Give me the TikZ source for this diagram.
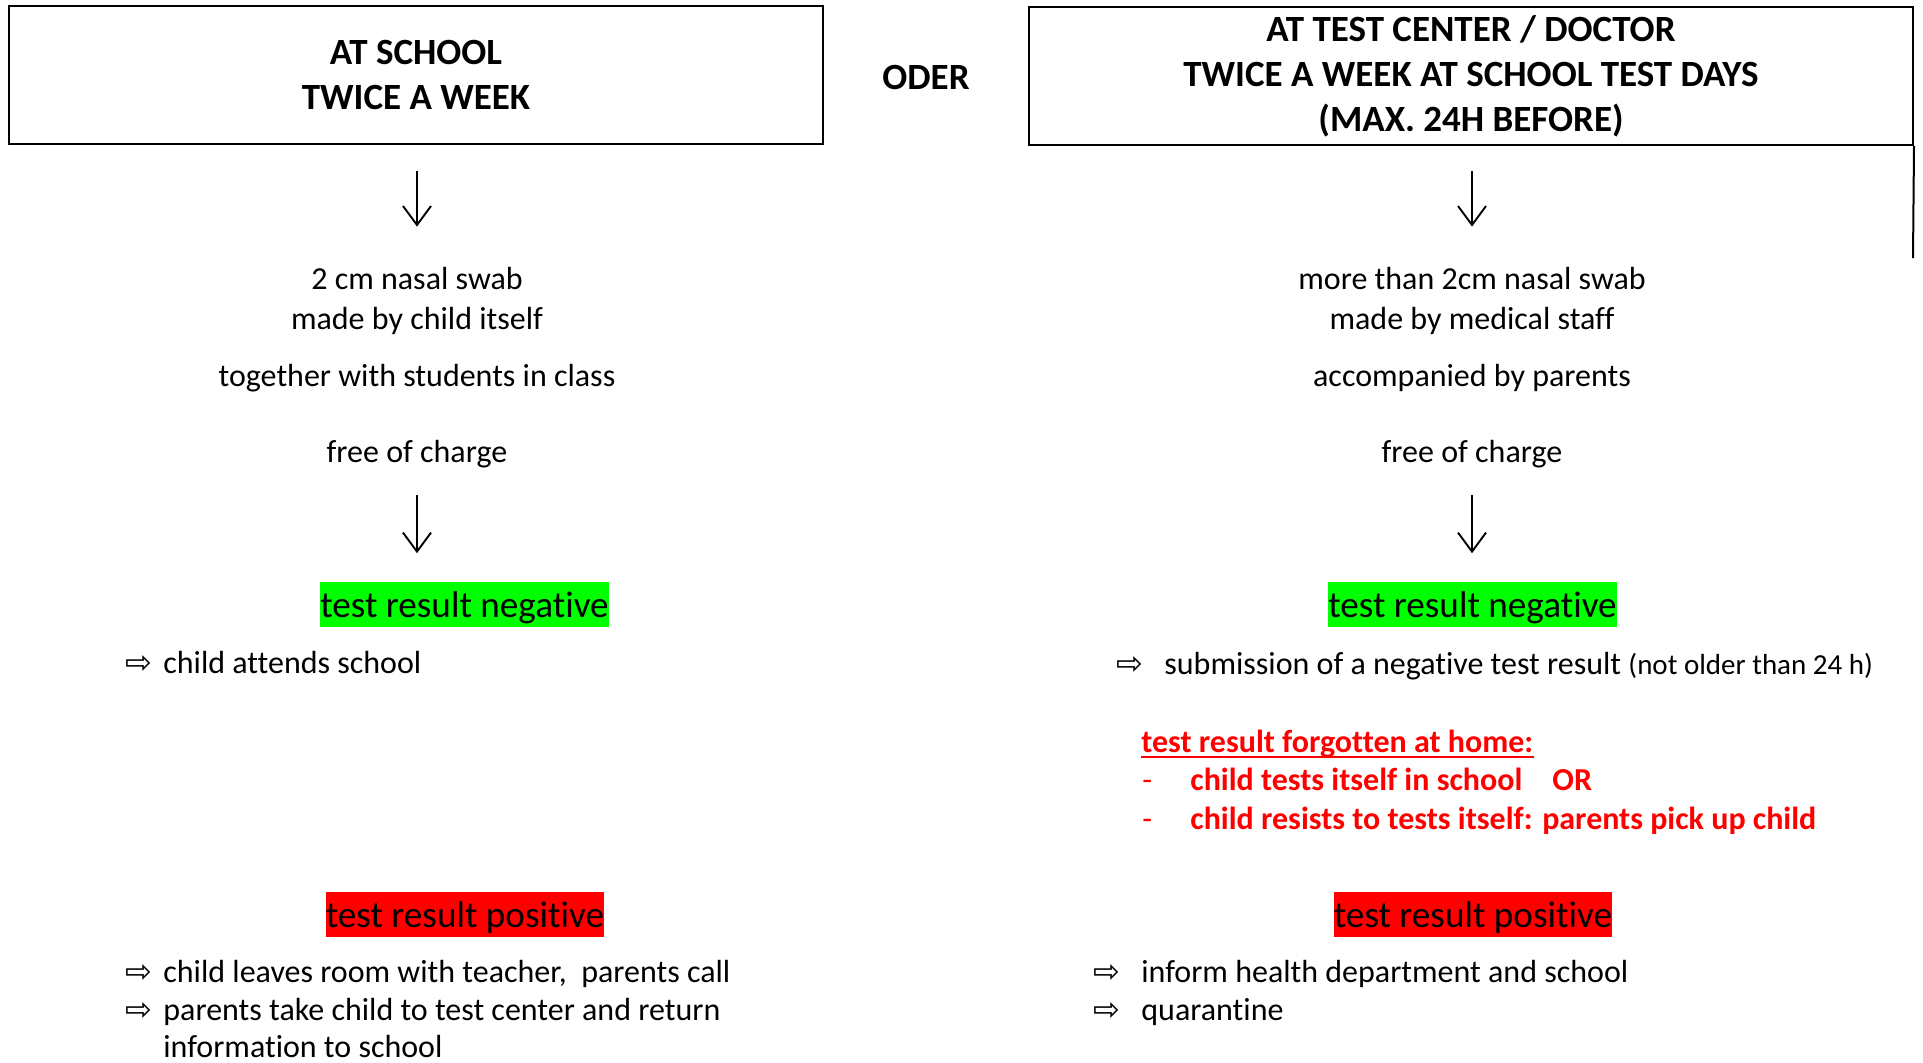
\documentclass[tikz,border=0pt]{standalone}
\usepackage{fontspec}
\setmainfont[Ligatures={NoCommon,NoContextual}, RawFeature={-liga;-clig;-calt;-dlig}]{Carlito}
\newfontfamily\arrowfont{DejaVu Sans}
\usetikzlibrary{arrows.meta}
\definecolor{hlgreen}{RGB}{0,255,0}
\definecolor{hlred}{RGB}{255,0,0}

\begin{document}
\begin{tikzpicture}[x=0.5pt, y=-0.5pt,
        head/.style={draw, line width=1pt, inner sep=0pt, align=center, font=\fontsize{18.5}{22.5}\selectfont\bfseries},
        txt/.style={inner sep=0pt, text height=12pt, text depth=3.5pt, font=\fontsize{16}{19.5}\selectfont},
        warn/.style={txt, text=red, font=\fontsize{16}{19.5}\selectfont\bfseries},
        hl/.style={inner sep=0pt, text height=17.7pt, text depth=5pt, font=\fontsize{18.6}{22.5}\selectfont},
        bul/.style={inner sep=0pt, text height=10pt, text depth=2pt, font=\arrowfont\fontsize{16}{19}\selectfont},
        arr/.style={-{Straight Barb[length=9.5pt, width=14pt]}, line width=0.95pt}]
        \useasboundingbox (0,0) rectangle (1923,1062);

        \node[head, minimum width=407pt, minimum height=69pt] (hdrL) at (416,75) {AT SCHOOL\\TWICE A WEEK};
        \node[head, minimum width=442pt, minimum height=69pt] (hdrR) at (1471,76) {AT TEST CENTER / DOCTOR\\TWICE A WEEK AT SCHOOL TEST DAYS\\(MAX. 24H BEFORE)};
        \node[font=\fontsize{18.5}{22.5}\selectfont\bfseries] (oder) at (926,77) {ODER};
        \coordinate (tail) at (1913,258);
        \draw[line width=1pt] (hdrR.south east) -- (tail);

        % left column
        \node[txt, anchor=base] (swab1L) at (417,289) {2 cm nasal swab};
        \node[txt, anchor=base] (swab2L) at (417,329) {made by child itself};
        \node[txt, anchor=base] (withL) at (417,386) {together with students in class};
        \node[txt, anchor=base] (costL) at (417,462) {free of charge};
        \node[hl, fill=hlgreen, anchor=base] (negL) at (464.5,617) {test result negative};
        \node[bul, anchor=base west] (bn1L) at (125,673) {⇨};
        \node[txt, anchor=base west] (n1L) at (163,673) {child attends school};
        \node[hl, fill=hlred, anchor=base] (posL) at (465,927) {test result positive};
        \node[bul, anchor=base west] (bp1L) at (125,982) {⇨};
        \node[txt, anchor=base west] (p1L) at (163,982) {child leaves room with teacher,\ \ parents call};
        \node[bul, anchor=base west] (bp2L) at (125,1020) {⇨};
        \node[txt, anchor=base west] (p2L) at (163,1020) {parents take child to test center and return};
        \node[txt, anchor=base west] (p3L) at (163,1057) {information to school};

        % right column
        \node[txt, anchor=base] (swab1R) at (1472,289) {more than 2cm nasal swab};
        \node[txt, anchor=base] (swab2R) at (1472,329) {made by medical staff};
        \node[txt, anchor=base] (withR) at (1472,386) {accompanied by parents};
        \node[txt, anchor=base] (costR) at (1472,462) {free of charge};
        \node[hl, fill=hlgreen, anchor=base] (negR) at (1472.5,617) {test result negative};
        \node[bul, anchor=base west] (bn1R) at (1116,674) {⇨};
        \node[txt, anchor=base west] (n1R) at (1164,674) {submission of a negative test result {\fontsize{14.5}{18}\selectfont(not older than 24 h)}};
        \node[warn, anchor=base west] (forgot) at (1141,752) {test result forgotten at home:};
        \draw[red, line width=1pt] ([yshift=-2.5pt]forgot.base west) -- ([yshift=-2.5pt]forgot.base east);
        \node[txt, text=red, anchor=base west] (dash1) at (1142,790) {-};
        \node[warn, anchor=base west] (f1) at (1190,790) {child tests itself in school\hspace{15pt}OR};
        \node[txt, text=red, anchor=base west] (dash2) at (1142,829) {-};
        \node[warn, anchor=base west] (f2) at (1190,829) {child resists to tests itself: parents pick up child};
        \node[hl, fill=hlred, anchor=base] (posR) at (1473,927) {test result positive};
        \node[bul, anchor=base west] (bp1R) at (1093,982) {⇨};
        \node[txt, anchor=base west] (p1R) at (1141,982) {inform health department and school};
        \node[bul, anchor=base west] (bp2R) at (1093,1020) {⇨};
        \node[txt, anchor=base west] (p2R) at (1141,1020) {quarantine};

        % arrows
        \draw[arr, shorten <=13pt, shorten >=19pt] (hdrL.south -| swab1L.north) -- (swab1L.north);
        \draw[arr, shorten <=12.5pt, shorten >=19pt] (hdrR.south -| swab1R.north) -- (swab1R.north);
        \draw[arr, shorten <=13pt, shorten >=14pt] (costL.south) -- (costL.south |- negL.north);
        \draw[arr, shorten <=13pt, shorten >=14pt] (costR.south) -- (costR.south |- negR.north);
    \end{tikzpicture}
\end{document}
